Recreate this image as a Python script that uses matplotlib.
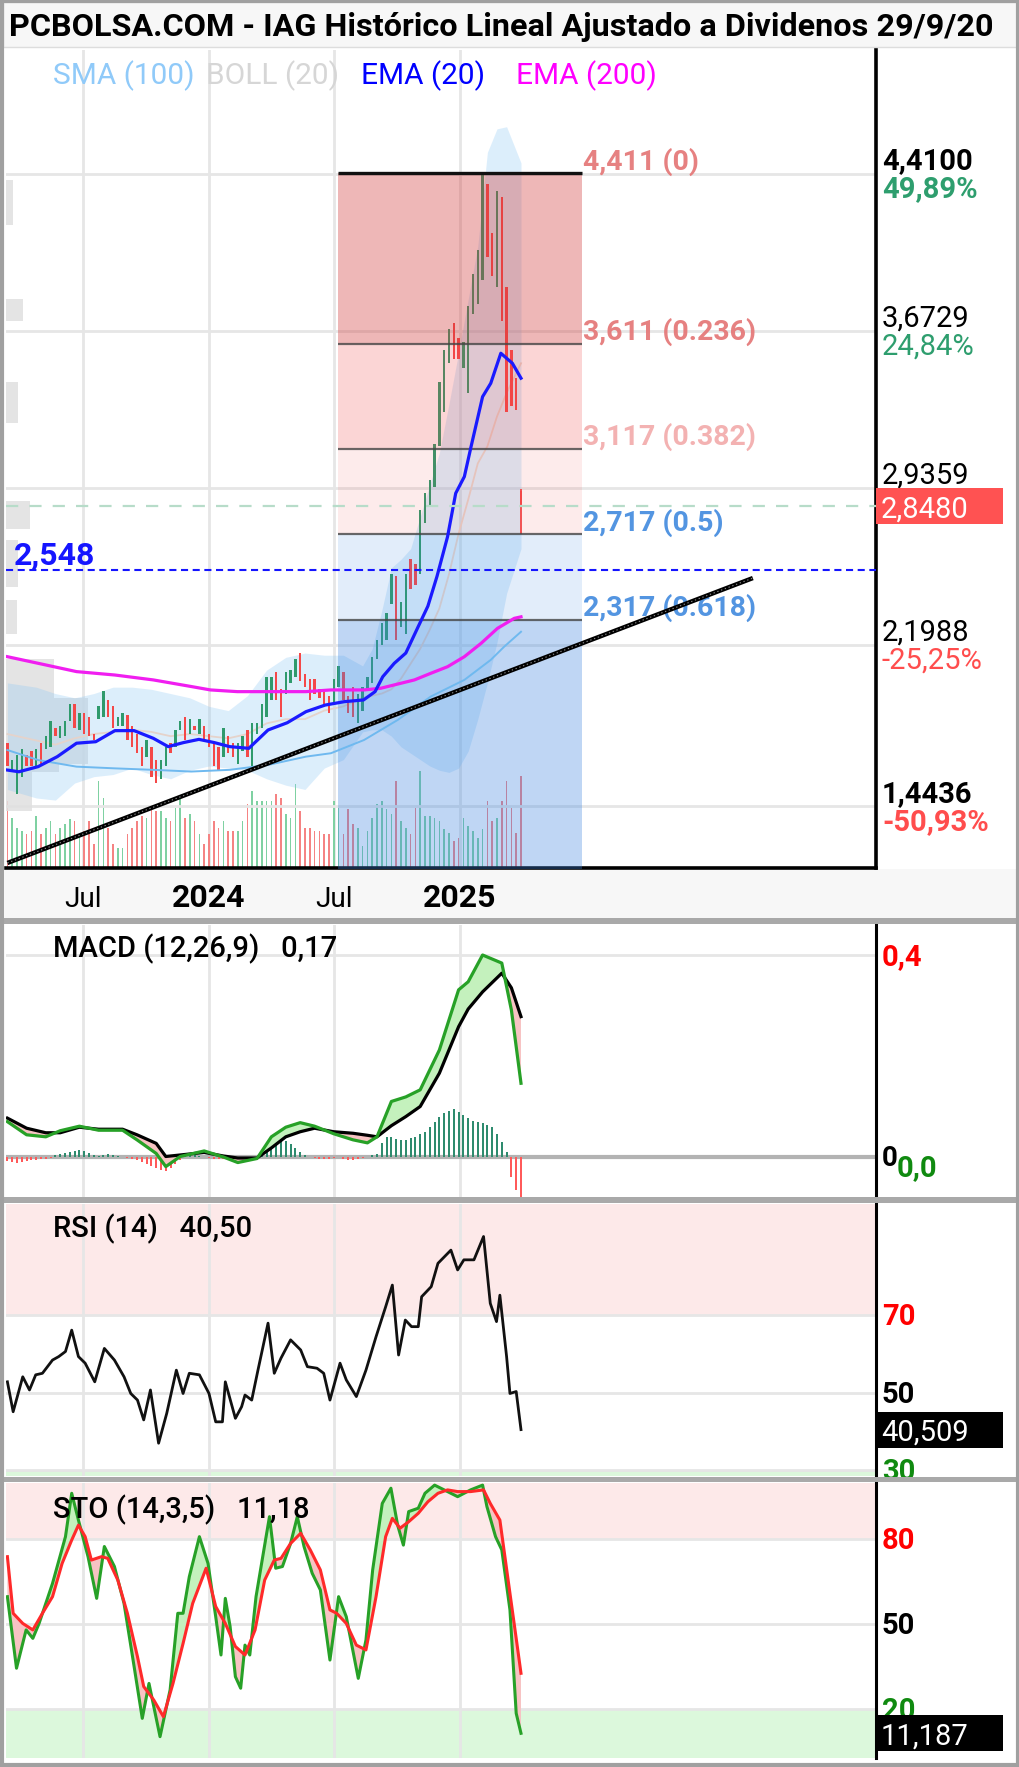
import numpy as np
import matplotlib
matplotlib.use("Agg")
import matplotlib.pyplot as plt
import matplotlib.dates as mdates
from matplotlib.patches import Rectangle
from matplotlib.transforms import blended_transform_factory, IdentityTransform

plt.rcParams['font.family'] = ['Roboto', 'DejaVu Sans']

# ===================== DATA =====================
first_week = '2023-03-13'

opens = [1.74, 1.60, 1.50, 1.58, 1.68, 1.70, 1.63, 1.74, 1.71, 1.72,
         1.81, 1.76, 1.77, 1.84, 1.92, 1.80, 1.88, 1.86, 1.78, 1.85,
         1.86, 1.94, 1.91, 1.82, 1.82, 1.87, 1.82, 1.78, 1.72, 1.67,
         1.72, 1.66, 1.57, 1.63, 1.74, 1.72, 1.80, 1.86, 1.78, 1.82,
         1.78, 1.82, 1.78, 1.74, 1.72, 1.67, 1.77, 1.74, 1.64, 1.70,
         1.80, 1.63, 1.78, 1.81, 1.86, 1.94, 2.07, 1.99, 1.97, 2.02,
         2.05, 2.16, 2.06, 2.04, 2.04, 1.99, 1.99, 1.96, 1.92, 2.00,
         2.07, 1.96, 2.00, 1.83, 1.89, 1.98, 2.02, 2.13, 2.20, 2.22,
         2.39, 2.52, 2.28, 2.25, 2.60, 2.58, 2.53, 2.77, 2.85, 2.94,
         3.13, 3.29, 3.52, 3.71, 3.64, 3.50, 3.38, 3.75, 3.80, 3.91,
         4.36, 4.13, 3.88, 4.30, 3.88, 3.58, 3.45, 2.92]
closes = [1.63, 1.66, 1.68, 1.71, 1.63, 1.63, 1.71, 1.64, 1.77, 1.84,
          1.77, 1.82, 1.84, 1.92, 1.81, 1.88, 1.78, 1.77, 1.75, 1.91,
          1.98, 1.86, 1.81, 1.86, 1.88, 1.75, 1.72, 1.69, 1.63, 1.75,
          1.58, 1.55, 1.66, 1.72, 1.69, 1.80, 1.84, 1.75, 1.85, 1.80,
          1.85, 1.75, 1.72, 1.63, 1.61, 1.81, 1.69, 1.67, 1.74, 1.77,
          1.67, 1.83, 1.83, 1.92, 2.05, 2.05, 1.94, 1.86, 2.07, 2.08,
          2.13, 2.03, 2.00, 1.94, 1.97, 1.95, 1.91, 1.88, 2.04, 2.10,
          1.94, 1.88, 1.86, 1.97, 2.00, 2.05, 2.14, 2.22, 2.30, 2.35,
          2.53, 2.22, 2.40, 2.53, 2.46, 2.48, 2.83, 2.91, 2.97, 3.14,
          3.43, 3.58, 3.68, 3.54, 3.54, 3.62, 3.79, 3.94, 4.05, 4.41,
          4.02, 3.93, 4.33, 3.72, 3.29, 3.32, 3.30, 2.848]
volumes = [67, 50, 40, 37, 34, 37, 52, 34, 40, 47, 34, 40, 44, 49, 47, 34, 37, 47, 24, 87,
           70, 40, 24, 20, 20, 34, 40, 47, 52, 50, 60, 57, 57, 50, 47, 60,
           70, 50, 54, 47, 34, 24, 34, 47, 40, 47, 37, 37, 37, 47, 64, 77, 67, 67, 67, 67,
           74, 70, 54, 50, 84, 57, 40, 40, 37, 37, 34, 34,
           67, 60, 34, 59, 44, 40, 22, 37, 50, 64, 67, 59, 54, 87, 47, 40, 34, 60, 97, 52,
           52, 50, 47, 39, 35, 27, 30, 50, 42, 37, 30, 39, 67, 47, 50, 67, 87, 60, 35, 92]
wick_week = [107]
wick_low = [2.72]
wick_high = [2.93]

ema20_week = [0, 2.4, 6.4, 10.4, 14.4, 18.4, 22.4, 26.4, 30.4, 33.5, 36.7, 39.9, 43.1, 46.3,
              50.3, 54.3, 58.3, 62.2, 66.2, 70.2, 74.2, 76.6, 78.2, 80.6, 83, 85.5, 87.6,
              89.5, 91.7, 93.4, 95.2, 96.6, 99, 100.7, 102.8, 105.2, 107]
ema20 = [1.611, 1.603, 1.627, 1.674, 1.737, 1.744, 1.796, 1.796, 1.760, 1.721, 1.740, 1.755,
         1.740, 1.721, 1.713, 1.799, 1.833, 1.885, 1.916, 1.932, 1.940, 1.979, 2.049, 2.112,
         2.16, 2.28, 2.38, 2.52, 2.706, 2.91, 2.988, 3.129, 3.363, 3.426, 3.567, 3.52, 3.45]

ema200_week = [0, 6.4, 14.4, 22.4, 30.4, 38.3, 42.3, 47.9, 62.2, 67.4, 74.3, 77.8, 84.8,
               88.2, 91.7, 95.2, 98.7, 102.1, 105.6, 107]
ema200 = [2.143, 2.112, 2.073, 2.057, 2.034, 2.003, 1.987, 1.979, 1.979, 1.987, 1.987, 1.995,
          2.034, 2.065, 2.096, 2.143, 2.206, 2.276, 2.323, 2.33]

sma100_week = [0, 6.4, 14.4, 22.4, 30.4, 38.3, 46.3, 54.3, 62.2, 67.4, 74.3, 81.3, 88.2,
               95.2, 100.7, 103.5, 107]
sma100 = [1.705, 1.658, 1.627, 1.619, 1.612, 1.604, 1.612, 1.635, 1.674, 1.69, 1.752, 1.846,
          1.956, 2.034, 2.128, 2.19, 2.26]

boll_week = [0, 6, 10, 14, 18, 22, 26, 30, 34, 38, 42, 46, 50, 54, 58, 62, 66, 70, 74, 76,
             78, 80, 82, 84, 86, 88, 90, 92, 94, 96, 98, 100, 102, 104, 107]
boll_upper = [2.02, 2.00, 1.97, 1.95, 1.97, 2.00, 2.00, 1.99, 1.97, 1.95, 1.91, 1.89, 1.96,
              2.08, 2.14, 2.16, 2.15, 2.15, 2.10, 2.18, 2.36, 2.56, 2.60, 2.65, 2.80, 2.95,
              3.10, 3.33, 3.57, 3.82, 4.07, 4.51, 4.62, 4.63, 4.46]
boll_mid = [1.78, 1.75, 1.73, 1.76, 1.78, 1.79, 1.80, 1.79, 1.77, 1.78, 1.77, 1.76, 1.78,
            1.83, 1.85, 1.85, 1.89, 1.91, 1.95, 1.96, 1.97, 1.99, 2.04, 2.11, 2.18, 2.27,
            2.37, 2.53, 2.72, 2.88, 3.05, 3.13, 3.27, 3.38, 3.52]
boll_lower = [1.52, 1.48, 1.47, 1.55, 1.58, 1.59, 1.62, 1.59, 1.57, 1.61, 1.63, 1.62, 1.61,
              1.57, 1.54, 1.52, 1.62, 1.66, 1.79, 1.80, 1.80, 1.77, 1.72, 1.69, 1.66, 1.63,
              1.61, 1.60, 1.62, 1.70, 1.85, 2.02, 2.21, 2.44, 2.65]

vp_low = [4.17, 3.72, 3.24, 2.74, 2.47, 2.25, 1.95, 1.64, 1.60, 1.42]
vp_high = [4.38, 3.82, 3.43, 2.875, 2.69, 2.41, 2.13, 1.95, 1.64, 1.60]
vp_weeks = [1.5, 3.5, 2.5, 5.0, 2.5, 2.2, 10.0, 17.0, 11.0, 5.5]

fib_ratios = ['0', '0.236', '0.382', '0.5', '0.618']
fib_prices = [4.411, 3.611, 3.117, 2.717, 2.317]
fib_one = 1.023
fib_start_week = 68.9
fib_end_week = 119.7

trend_week = [0.0, 155.3]
trend_price = [1.175, 2.512]

support_level = 2.548
last_price = 2.848

price_ticks = [4.4100, 3.6729, 2.9359, 2.1988, 1.4436]
price_tick_labels = ['4,4100', '3,6729', '2,9359', '2,1988', '1,4436']
price_pct = ['49,89%', '24,84%', '', '-25,25%', '-50,93%']
price_bold = [True, False, False, False, True]

x_tick_dates = ['2023-07-01', '2024-01-01', '2024-07-01', '2025-01-01']
x_tick_labels = ['Jul', '2024', 'Jul', '2025']

macd_week = [0, 4, 8, 11, 15, 19, 24, 27, 31, 33, 36, 41, 45, 48, 52, 55, 58, 61, 64, 68, 72,
             75, 77, 80, 83, 86, 90, 94, 96, 99, 103, 105, 107]
macd_line = [0.070, 0.044, 0.040, 0.052, 0.061, 0.053, 0.053, 0.034, 0.007, -0.019, 0.001,
             0.012, 0.000, -0.011, -0.003, 0.040, 0.059, 0.068, 0.061, 0.046, 0.034, 0.028,
             0.040, 0.110, 0.119, 0.133, 0.212, 0.331, 0.347, 0.400, 0.384, 0.291, 0.146]
macd_signal = [0.077, 0.057, 0.048, 0.048, 0.059, 0.055, 0.055, 0.044, 0.027, 0.001, 0.004,
               0.009, 0.002, -0.002, -0.002, 0.018, 0.040, 0.050, 0.057, 0.050, 0.047, 0.043,
               0.040, 0.062, 0.080, 0.100, 0.166, 0.258, 0.293, 0.327, 0.364, 0.335, 0.278]
macd_hist = [-0.008, -0.010, -0.012, -0.010, -0.008, -0.006, -0.006, -0.004, -0.003, -0.002,
             0.003, 0.006, 0.008, 0.010, 0.012, 0.014, 0.012, 0.008, 0.004, 0.002, 0.004, 0.006, 0.004,
             0.002, 0.0, -0.002, -0.004, -0.006,
             -0.010, -0.014, -0.018, -0.022, -0.026, -0.028, -0.022, -0.014, -0.006,
             0.002, 0.004, 0.003, 0.002, 0.0, -0.002, -0.003, -0.004, -0.004, -0.003, -0.006,
             -0.008, -0.006, -0.004, -0.002, 0.0, 0.004,
             0.012, 0.020, 0.028, 0.034, 0.032, 0.026, 0.018, 0.010, 0.004,
             0.0, -0.002, -0.003, -0.004, -0.004, -0.002, 0.0, -0.003, -0.005, -0.006, -0.004,
             -0.002, 0.0, 0.003, 0.006,
             0.027, 0.040, 0.040, 0.036, 0.034, 0.034, 0.037, 0.040, 0.045, 0.050, 0.060, 0.070,
             0.080, 0.087, 0.092, 0.096, 0.090, 0.084, 0.077, 0.072, 0.070, 0.067, 0.064, 0.060,
             0.045, 0.030,
             0.010, -0.040, -0.065, -0.085]

rsi_week = [0, 1.2, 3.2, 4.6, 5.9, 7.3, 9.4, 10.7, 12.1, 13.4, 14.8, 16.2, 18.2, 20.2, 22.3,
            24.3, 25.7, 27.1, 28.4, 29.8, 31.5, 33.2, 35.2, 36.6, 37.9, 40, 42, 43.4, 44.8,
            45.4, 47.5, 48.8, 49.5, 50.9, 52.2, 54.3, 55.6, 57, 59, 61.1, 62.5, 64.5, 65.9,
            67.2, 69.3, 70.6, 72.7, 74.7, 76.8, 78.8, 80.2, 81.5, 82.9, 84.2, 85.6, 86.3, 88.3,
            89.7, 92.4, 93.8, 95.1, 97.2, 99.2, 100.6, 101.9, 102.6, 104, 104.7, 106, 107]
rsi = [52.8, 45.1, 54.1, 50.7, 54.6, 55.0, 58.4, 59.3, 60.6, 66.1, 59.3, 57.6, 52.8, 61.4, 58.4,
       54.1, 49.8, 48.1, 43.0, 50.7, 37.0, 44.7, 55.8, 49.8, 55.0, 54.6, 49.8, 42.5, 42.5,
       52.8, 43.4, 46.4, 49.4, 48.1, 55.8, 67.9, 55.0, 58.9, 63.6, 61.0, 56.7, 56.3, 55.0,
       48.1, 57.6, 53.3, 49.0, 55.8, 64.4, 72.1, 77.7, 59.7, 68.7, 67.0, 67.0, 74.7, 77.3,
       83.3, 86.7, 81.6, 84.2, 84.2, 90.2, 73.0, 68.3, 75.1, 59.3, 49.8, 50.3, 40.5]

sto_k_week = [0, 1.9, 3.9, 5.3, 6.6, 9.4, 12.1, 13.4, 14.8, 16.8, 18.6, 20.2, 22.3, 24.3, 26.4,
              28.1, 29.5, 31.8, 33.9, 35.5, 36.6, 37.9, 40, 41.8, 43.4, 44.5, 45.4, 46.4, 47.5,
              48.6, 49.5, 50.5, 51.8, 53.6, 54.6, 55.9, 57.3, 59, 60.4, 61.8, 63.5, 65.2, 67.2,
              69, 70.6, 73.1, 74.7, 76.1, 78.1, 79.9, 81.3, 82.5, 83.6, 85.6, 87, 89, 91, 93.8,
              96.5, 99, 99.9, 101.7, 103, 104.7, 106, 107]
sto_k = [59.7, 34.3, 47.9, 44.9, 50.2, 64.4, 81.0, 96.4, 86.9, 73.9, 59.1, 77.5, 70.4, 57.3,
         34.9, 16.5, 28.9, 10.0, 26.6, 53.8, 53.8, 66.8, 81.0, 71.5, 52.6, 39.0, 59.1, 49.1,
         31.3, 27.2, 42.5, 39.0, 59.7, 78.0, 88.1, 69.8, 70.4, 78.6, 88.1, 77.5, 68.0, 62.1,
         37.2, 59.7, 52.6, 30.7, 44.3, 69.2, 92.8, 98.2, 85.1, 78.0, 89.9, 91.1, 96.4, 99.3,
         97.6, 95.2, 97.6, 99.3, 91.7, 81.0, 76.3, 55.0, 18.3, 11.2]
sto_d_week = [0, 1.2, 3.2, 5.3, 7.3, 9.4, 11.4, 13.4, 14.8, 16.2, 17.5, 19.6, 20.9, 23, 25,
              27.1, 28.4, 30.5, 32.5, 34.5, 36.6, 38.6, 41.4, 43.4, 45.4, 47.5, 49.5, 51.6,
              53.6, 55.6, 57, 59, 61.1, 63.1, 65.2, 67.2, 68.6, 70.6, 72.7, 74.7, 76.8, 78.8,
              80.2, 81.8, 83.6, 85.6, 87.6, 89.7, 91.7, 93.8, 96.5, 99.2, 100.6, 102.6, 104.7,
              106, 107]
sto_d = [73.9, 53.8, 50.2, 47.9, 53.8, 59.7, 71.5, 79.8, 85.1, 81.0, 72.7, 73.9, 73.3, 65.6,
         53.8, 38.4, 27.8, 23.0, 17.1, 28.9, 43.1, 57.3, 69.8, 56.2, 50.2, 42.0, 39.0, 47.9,
         65.6, 72.7, 73.3, 78.6, 82.2, 76.3, 69.2, 55.0, 53.8, 50.2, 42.5, 40.8, 59.7, 81.0,
         87.5, 84.0, 86.3, 89.3, 93.4, 96.4, 97.6, 97.0, 97.0, 97.6, 92.8, 86.9, 60.9, 44.9,
         32.5]

# ===================== LAYOUT / STYLE =====================
W, H = 1020, 1767
fig = plt.figure(figsize=(W / 100, H / 100), dpi=100)
fig.patch.set_facecolor('white')

PLOT_X0, PLOT_X1 = 6, 876
GREEN_C = '#2f9a6c'
RED_C = '#f44848'
GRID = '#e6e6e6'

t0 = mdates.datestr2num(first_week)


def wx(i):
    return t0 + 7.0 * np.asarray(i, dtype=float)


XL = (wx(-0.29), wx(180.96))
tick_x = [mdates.datestr2num(d) for d in x_tick_dates]


def fig_rect(x0, y0, x1, y1, z=-1, **kw):
    fig.add_artist(Rectangle((x0 / W, 1 - y1 / H), (x1 - x0) / W, (y1 - y0) / H,
                             transform=fig.transFigure, zorder=z, **kw))


def make_ax(y0, y1):
    a = fig.add_axes([PLOT_X0 / W, 1 - y1 / H, (PLOT_X1 - PLOT_X0) / W, (y1 - y0) / H])
    a.set_xlim(*XL)
    a.set_xticks([])
    a.set_yticks([])
    for s in ('top', 'left', 'bottom'):
        a.spines[s].set_visible(False)
    a.spines['right'].set_color('black')
    a.spines['right'].set_linewidth(2.2)
    return a


def rtext(a, y, s, color, weight='bold', dy=0, size=21, va='baseline'):
    a.annotate(s, xy=(1, y), xycoords=('axes fraction', 'data'), xytext=(6, dy),
               textcoords='offset pixels', color=color, fontsize=size, fontweight=weight,
               ha='left', va=va, annotation_clip=False, zorder=20)


def value_box(a, y, s, fc, tc):
    fig.canvas.draw()
    tr = blended_transform_factory(a.transAxes, a.transData)
    px, py = tr.transform((1, y))
    fig.add_artist(Rectangle((px, py - 18), 127, 36, transform=IdentityTransform(),
                             facecolor=fc, edgecolor='none', zorder=30))
    fig.text((px + 5) / W, (py - 11) / H, s, color=tc, fontsize=21, va='baseline',
             ha='left', zorder=31)


# ---------- backgrounds / frames ----------
fig_rect(3, 2, 1017, 47, facecolor='#f7f7f7', edgecolor='#dddddd', lw=1)
fig_rect(5, 869, 1017, 918, facecolor='#f7f7f7', edgecolor='none')
for (a0, a1) in [(918, 924), (1197, 1203), (1477, 1482)]:
    fig_rect(3, a0, 1017, a1, z=5, facecolor='#a9a9a9', edgecolor='none')
fig_rect(2, 1, 1018, 1765, z=50, fill=False, edgecolor='#a0a0a0', lw=3)

fig.text(9 / W, 1 - 36 / H, 'PCBOLSA.COM - IAG Histórico Lineal Ajustado a Dividenos 29/9/20',
         fontsize=23.3, fontweight='bold', color='black', va='baseline', ha='left')

# ===================== MAIN PRICE PANEL =====================
MAIN_Y0, MAIN_Y1 = 50, 868
YL = (1.1514, 4.99)

axv = make_ax(MAIN_Y0, MAIN_Y1)
axv.set_ylim(0, MAIN_Y1 - MAIN_Y0)
axv.spines['right'].set_visible(False)
for tx in tick_x:
    axv.axvline(tx, color=GRID, lw=2, zorder=0)
o = np.array(opens)
c = np.array(closes)
up = c >= o
X = wx(np.arange(len(o)))
vcol = np.where(up, '#7fd1a2', '#f58383')
axv.bar(X, volumes, width=2.6, color=vcol, linewidth=0, zorder=2)

ax = make_ax(MAIN_Y0, MAIN_Y1)
ax.patch.set_visible(False)
ax.set_ylim(*YL)
ax.spines['bottom'].set_visible(True)
ax.spines['bottom'].set_color('black')
ax.spines['bottom'].set_linewidth(2.6)
ax.spines['right'].set_linewidth(2.6)
for p in price_ticks:
    ax.axhline(p, color=GRID, lw=2, zorder=0.5)

# volume profile
ax.barh(vp_low, np.array(vp_weeks) * 7, height=np.array(vp_high) - np.array(vp_low),
        left=XL[0], align='edge', color='#e0e0e0', alpha=0.85, linewidth=0, zorder=1)

# bollinger
bx = wx(boll_week)
ax.fill_between(bx, boll_lower, boll_upper, color='#8cc8f5', alpha=0.3, lw=0, zorder=1.5)
ax.plot(bx, boll_mid, color='#e5d3cb', lw=1.3, zorder=2)

# candles
ccol = np.where(up, GREEN_C, RED_C)
ax.bar(X, np.maximum(np.abs(c - o), 0.01), bottom=np.minimum(o, c), width=3.6, color=ccol,
       linewidth=0, zorder=3)
ax.vlines(wx(wick_week), wick_low, wick_high, color=RED_C, lw=1.3, zorder=3)

# fibonacci retracement
fx0, fx1 = wx(fib_start_week), wx(fib_end_week)
zone_bounds = fib_prices + [fib_one]
zone_style = [('#d03838', 0.36), ('#ee4040', 0.22), ('#ee4040', 0.10),
              ('#3d85e0', 0.145), ('#3d85e0', 0.33)]
for k in range(5):
    ax.fill_between([fx0, fx1], zone_bounds[k + 1], zone_bounds[k], color=zone_style[k][0],
                    alpha=zone_style[k][1], lw=0, zorder=4)
ax.hlines(fib_prices[0], fx0, fx1, colors='#111111', lw=2.4, zorder=5)
ax.hlines(fib_prices[1:], fx0, fx1, colors='#444444', lw=1.6, alpha=0.8, zorder=5)
fib_colors = ['#e57a7a', '#e57a7a', '#f3aeae', '#4a8fe0', '#4a8fe0']
for p, r, col in zip(fib_prices, fib_ratios, fib_colors):
    ax.annotate(f"{p:.3f}".replace('.', ',') + f" ({r})", xy=(fx1, p), xytext=(1, 4),
                textcoords='offset pixels', color=col, fontsize=20.5, fontweight='bold',
                ha='left', va='baseline', zorder=6, alpha=0.95)

# moving averages
ax.plot(wx(sma100_week), sma100, color='#6fb9ef', lw=1.4, zorder=6)
ax.plot(wx(ema200_week), ema200, color='#f01ef0', lw=2.3, zorder=6)
ax.plot(wx(ema20_week), ema20, color='#1a1aff', lw=2.3, zorder=6)

# horizontal reference lines
ax.axhline(last_price, color='#b7dcc9', lw=1.6, dashes=(5.5, 5), zorder=6)
ax.axhline(support_level, color='#1515ff', lw=1.5, dashes=(3.4, 2.2), zorder=6)
ax.annotate(f"{support_level:.3f}".replace('.', ','), xy=(0, support_level),
            xycoords=('axes fraction', 'data'), xytext=(8, 6), textcoords='offset pixels',
            color='#1515ff', fontsize=23, fontweight='bold', va='baseline', ha='left', zorder=7)

# trend line
ax.plot(wx(trend_week), trend_price, color='black', lw=3.2, zorder=7, solid_capstyle='butt')
ax.plot(wx(trend_week), trend_price, color='white', lw=0.8, dashes=(1.2, 2.4), alpha=0.55, zorder=7.1)

# right price labels
for p, lab, pct, b in zip(price_ticks, price_tick_labels, price_pct, price_bold):
    w = 'bold' if b else 'normal'
    rtext(ax, p, lab, 'black', weight=w, dy=4)
    if pct:
        col = '#2e9e6e' if not pct.startswith('-') else '#ff4d4d'
        rtext(ax, p, pct, col, weight=w, dy=-24)

# x tick labels
for tx, lab in zip(tick_x, x_tick_labels):
    bold = lab.isdigit()
    ax.annotate(lab, xy=(tx, 0), xycoords=('data', 'axes fraction'), xytext=(0, -39),
                textcoords='offset pixels', ha='center', va='baseline',
                fontsize=23 if bold else 20, fontweight='bold' if bold else 'normal',
                color='black', annotation_clip=False, zorder=10)

# legend texts
for s, xpx, col in [('SMA (100)', 53, '#90caf9'), ('BOLL (20)', 206, '#d6d6d6'),
                    ('EMA (20)', 361, '#0000ff'), ('EMA (200)', 516, '#ff00ff')]:
    fig.text(xpx / W, 1 - 84 / H, s, color=col, fontsize=21.5, va='baseline', ha='left')

# ===================== MACD =====================
axm = make_ax(925, 1197)
axm.set_ylim(-0.0792, 0.4594)
for tx in tick_x:
    axm.axvline(tx, color=GRID, lw=2, zorder=0)
axm.axhline(0.4, color=GRID, lw=2, zorder=0)
axm.axhline(0.0, color='#b3b3b3', lw=3, zorder=1)
hist = np.array(macd_hist)
axm.bar(X, hist, width=2.8, color=np.where(hist >= 0, '#2e8b6e', '#ff5a5a'), linewidth=0,
        zorder=2)
mx = wx(macd_week)
ml = np.array(macd_line)
ms = np.array(macd_signal)
axm.fill_between(mx, ml, ms, where=ml >= ms, interpolate=True, color='#c4f1bd', lw=0, zorder=3)
axm.fill_between(mx, ml, ms, where=ml < ms, interpolate=True, color='#f7c3c3', lw=0, zorder=3)
axm.plot(mx, ms, color='black', lw=2.3, zorder=4)
axm.plot(mx, ml, color='#27a127', lw=2.3, zorder=4)
fig.text(53 / W, 1 - 957 / H, 'MACD (12,26,9)   0,17', fontsize=21, fontweight='medium',
         va='baseline', ha='left')
rtext(axm, 0.4, '0,4', '#ff0000', dy=-10)
rtext(axm, 0.0, '0', 'black', dy=-9, size=20)
axm.annotate('0,0', xy=(1, 0), xycoords=('axes fraction', 'data'), xytext=(21, -19),
             textcoords='offset pixels', color='#108a10', fontsize=21, fontweight='bold',
             va='baseline', ha='left', annotation_clip=False)

# ===================== RSI =====================
axr = make_ax(1204, 1476)
axr.set_ylim(28.56, 98.57)
axr.axhspan(70, 100, color='#fde9e9', lw=0, zorder=0)
axr.axhspan(0, 30, color='#dcf8dc', lw=0, zorder=0)
for tx in tick_x:
    axr.axvline(tx, color=GRID, lw=2, zorder=0.5)
for lv in (70, 50, 30):
    axr.axhline(lv, color=GRID, lw=2, zorder=0.5)
axr.plot(wx(rsi_week), rsi, color='#111111', lw=2, zorder=3)
fig.text(53 / W, 1 - 1237 / H, 'RSI (14)   40,50', fontsize=21, fontweight='medium',
         va='baseline', ha='left')
rtext(axr, 70, '70', '#ff0000', dy=-10)
rtext(axr, 50, '50', 'black', dy=-10)
rtext(axr, 30, '30', '#108a10', dy=-10)

# ===================== STOCHASTIC =====================
axs = make_ax(1483, 1758)
axs.set_ylim(2.43, 100.05)
axs.axhspan(80, 101, color='#fde9e9', lw=0, zorder=0)
axs.axhspan(0, 20, color='#dcf8dc', lw=0, zorder=0)
for tx in tick_x:
    axs.axvline(tx, color=GRID, lw=2, zorder=0.5)
for lv in (80, 50, 20):
    axs.axhline(lv, color=GRID, lw=2, zorder=0.5)
grid_w = np.linspace(0, 107, 900)
kk = np.interp(grid_w, sto_k_week, sto_k)
dd = np.interp(grid_w, sto_d_week, sto_d)
axs.fill_between(wx(grid_w), kk, dd, where=kk >= dd, interpolate=True, color='#c4f1bd', lw=0,
                 zorder=2)
axs.fill_between(wx(grid_w), kk, dd, where=kk < dd, interpolate=True, color='#f7c3c3', lw=0,
                 zorder=2)
axs.plot(wx(sto_k_week), sto_k, color='#27a127', lw=2.2, zorder=3)
axs.plot(wx(sto_d_week), sto_d, color='#ff2a2a', lw=2.2, zorder=3)
fig.text(53 / W, 1 - 1518 / H, 'STO (14,3,5)   11,18', fontsize=21, fontweight='medium',
         va='baseline', ha='left')
rtext(axs, 80, '80', '#ff0000', dy=-10)
rtext(axs, 50, '50', 'black', dy=-10)
rtext(axs, 20, '20', '#108a10', dy=-10)

# value boxes
value_box(ax, last_price, '2,8480', '#ff5252', 'white')
value_box(axr, rsi[-1] + 0.009, '40,509', 'black', 'white')
value_box(axs, 11.187, '11,187', 'black', 'white')

fig.savefig('out.png', dpi=100, facecolor='white')
